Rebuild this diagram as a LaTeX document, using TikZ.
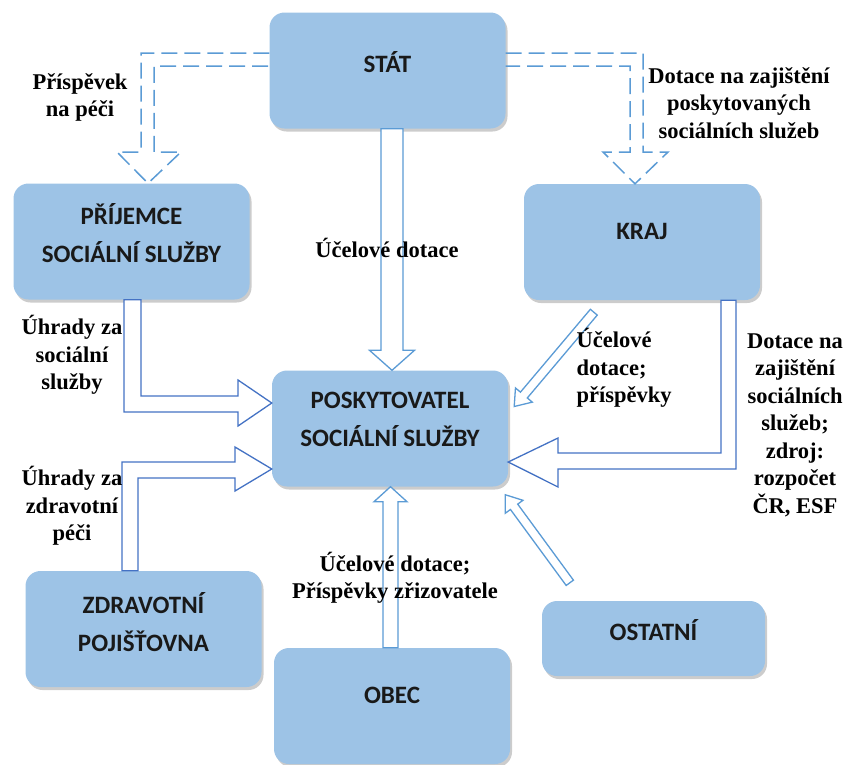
\documentclass[tikz,border=0pt]{standalone}
\usepackage{fontspec}
\setmainfont{Liberation Serif}
\newfontfamily\boxfont{Carlito}
\usetikzlibrary{calc,shadows}
\definecolor{boxblue}{RGB}{157,195,230}
\definecolor{flowlight}{RGB}{91,155,213}
\definecolor{flowdark}{RGB}{68,114,196}
\newcommand{\blockarrow}[6][flow]{%
	\draw[#1] ($(#2)!#4!90:(#3)$) -- ($($(#3)!#6!(#2)$)!#4!-90:(#2)$)
		-- ($($(#3)!#6!(#2)$)!#5!-90:(#2)$) -- (#3)
		-- ($($(#3)!#6!(#2)$)!#5!90:(#2)$) -- ($($(#3)!#6!(#2)$)!#4!90:(#2)$)
		-- ($(#2)!#4!-90:(#3)$) -- cycle;}
\begin{document}
\begin{tikzpicture}[x=1pt, y=-1pt,
        box/.style={rounded corners=15pt, fill=boxblue, inner sep=0pt, minimum width=236pt, minimum height=116pt,
            drop shadow={shadow xshift=2pt, shadow yshift=-3pt, opacity=.4}},
        boxtext/.style={font=\boxfont\fontsize{25}{38}\selectfont\bfseries, align=center, text=black!90},
        note/.style={font=\fontsize{22.5}{27.5}\selectfont\bfseries, align=center},
        flow/.style={draw=flowlight, line width=1.3pt, fill=white},
        flowdark/.style={flow, draw=flowdark},
        flowdash/.style={draw=flowlight, line width=1.5pt, dash pattern=on 16pt off 7pt},
    ]
	\useasboundingbox (0,0) rectangle (846,764);

	\node[box] (stat) at (387.5,70.5) {};
	\node[box] (prij) at (131.5,241.5) {};
	\node[box] (kraj) at (642,242) {};
	\node[box] (posk) at (390,428.5) {};
	\node[box] (zdrav) at (143.5,629) {};
	\node[box] (obec) at (392,706) {};
	\node[box, minimum width=223pt, minimum height=75pt] (ostat) at (653.5,638.5) {};

	\node[boxtext] (stat-t) at (387.5,62) {STÁT};
	\node[boxtext] (prij-t) at (131.5,233) {PŘÍJEMCE\\SOCIÁLNÍ SLUŽBY};
	\node[boxtext] (kraj-t) at (642,231) {KRAJ};
	\node[boxtext] (posk-t) at (390,419) {POSKYTOVATEL\\SOCIÁLNÍ SLUŽBY};
	\node[boxtext] (zdrav-t) at (143.5,622) {ZDRAVOTNÍ\\POJIŠŤOVNA};
	\node[boxtext] (obec-t) at (392,695) {OBEC};
	\node[boxtext] (ostat-t) at (653.5,630) {OSTATNÍ};

	\blockarrow{stat.south -| 392,0}{posk.north -| 392,0}{11pt}{22.5pt}{20pt}
	\blockarrow{obec.north -| 390.5,0}{posk.south -| 390.5,0}{7.5pt}{16.5pt}{15pt}
	\blockarrow{$(kraj.south west)+(70,12)$}{$(posk.east)+(6,-22)$}{4.5pt}{11pt}{15pt}
	\blockarrow{$(ostat.north west)+(28,-18)$}{$(posk.south east)+(-3,8)$}{4.5pt}{11pt}{15pt}

	\draw[flowdark] (prij.south -| 124,0) -- (124,412) -- (238,412) -- (238,426) -- (posk.west |- 0,403)
		-- (238,380) -- (238,396) -- (141,396) -- (prij.south -| 141,0) -- cycle;
	\draw[flowdark] (zdrav.north -| 122,0) -- (122,462) -- (235,462) -- (235,447) -- (posk.west |- 0,469)
		-- (235,491) -- (235,478) -- (138,478) -- (zdrav.north -| 138,0) -- cycle;
	\draw[flowdark] (kraj.south -| 736,0) -- (736,469) -- (558,469) -- (558,487) -- (posk.east |- 0,462)
		-- (558,438) -- (558,453) -- (721,453) -- (kraj.south -| 721,0) -- cycle;

	\draw[flowdash] (stat.west |- 0,53) -- (141,53) -- (141,152) -- (117,152) -- (prij.north -| 148,0)
		-- (181,152) -- (154,152) -- (154,66) -- (stat.west |- 0,66);
	\draw[flowdash] (stat.east |- 0,53) -- (643,53) -- (643,152) -- (668,152) -- (kraj.north -| 635,0)
		-- (603,152) -- (630,152) -- (630,66) -- (stat.east |- 0,66);

	\node[note] (pris) at (80,97.5) {Příspěvek\\na péči};
	\node[note] (dotkraj) at (739,103) {Dotace na zajištění\\poskytovaných\\sociálních služeb};
	\node[note] (ucel) at (387,248) {Účelové dotace};
	\node[note] (uhrsoc) at (72,355) {Úhrady za\\sociální\\služby};
	\node[note] (uhrzdr) at (72,506) {Úhrady za\\zdravotní\\péči};
	\node[note, align=left, anchor=west] (ucelkraj) at (573,368) {Účelové\\dotace;\\příspěvky};
	\node[note] (dotzdroj) at (795,425) {Dotace na\\zajištění\\sociálních\\služeb;\\zdroj:\\rozpočet\\ČR, ESF};
	\node[note] (ucelobec) at (395,578) {Účelové dotace;\\Příspěvky zřizovatele};

\end{tikzpicture}
\end{document}
